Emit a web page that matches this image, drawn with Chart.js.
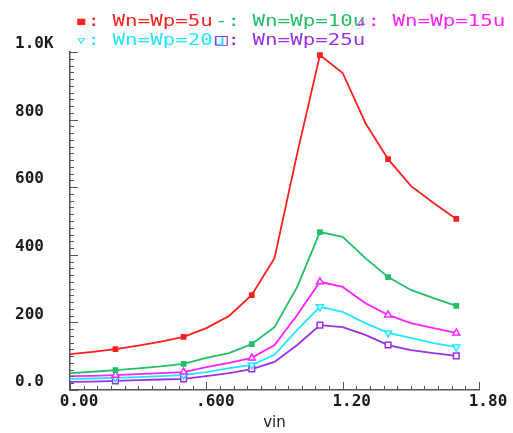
<!DOCTYPE html>
<html>
<head>
<meta charset="utf-8">
<script src="https://cdn.jsdelivr.net/npm/chart.js@4/dist/chart.umd.min.js"></script>
<style>
    html, body { margin: 0; padding: 0; background: #fff; }
    #wrap { position: relative; width: 513px; height: 433px; }
    #legend { position: absolute; left: 75px; top: 11px; width: 440px; }
    .row { position: relative; height: 19px; }
    .item {
        position: absolute; top: 0; white-space: pre;
        font: 16px 'DejaVu Sans Mono', monospace; line-height: 19px;
        transform: scaleX(1.3); transform-origin: left center;
    }
</style>
</head>
<body>
<div id="wrap">
    <canvas id="c" width="513" height="433"></canvas>
    <div id="legend"></div>
</div>
<script>
const vin = [0, 0.1, 0.2, 0.3, 0.4, 0.5, 0.6, 0.7, 0.8, 0.9, 1.0, 1.1, 1.2, 1.3, 1.4, 1.5, 1.6, 1.7];
const wp5 = [106, 113, 121, 131, 143, 157, 183, 219, 281, 390, 700, 991, 938, 790, 683, 604, 553, 506];
const wp10 = [50, 54, 59, 64, 70, 77, 95, 109, 136, 186, 305, 467, 453, 390, 334, 296, 272, 249];
const wp15 = [41, 42, 44, 47, 50, 53, 68, 80, 95, 133, 222, 320, 305, 257, 222, 198, 183, 169];
const wp20 = [33, 34, 36, 38, 41, 44, 53, 65, 74, 104, 178, 246, 231, 198, 169, 154, 139, 127];
const wp25 = [24, 25, 27, 29, 31, 33, 41, 50, 62, 83, 133, 192, 186, 163, 133, 118, 109, 101];
const markerAt = [0.2, 0.5, 0.8, 1.1, 1.4, 1.7];

const seriesNames = ['Wn=Wp=5u', 'Wn=Wp=10u', 'Wn=Wp=15u', 'Wn=Wp=20u', 'Wn=Wp=25u'];
const legendGlyphs = ['\u25aa', '-', '\u25b5', '\u25bf', '\u25a1'];

const xTicks = [0, 0.6, 1.2, 1.8];
const xTickLabels = ['0.00', '.600', '1.20', '1.80'];
const yTicks = [0, 200, 400, 600, 800, 1000];
const yTickLabels = ['0.0', '200', '400', '600', '800', '1.0K'];

const COLORS = ['#ff1f1f', '#22bf66', '#ff22ff', '#22e6ff', '#9b30e8'];
const AXIS = '#555';
const TEXT = '#1a1a1a';

const allSeries = [wp5, wp10, wp15, wp20, wp25];
const styles = [
    { shape: 'rect', r: 3, filled: true },
    { shape: 'rect', r: 3, filled: true },
    { shape: 'triangle', r: 4, filled: false },
    { shape: 'triangle', r: 4, filled: false, rot: 180 },
    { shape: 'rect', r: 4, filled: false },
];

function isMarker(x) {
    return markerAt.some((m) => Math.abs(m - x) < 1e-6);
}

const datasets = allSeries.map((vals, i) => ({
    label: seriesNames[i],
    data: vals.map((v, k) => ({ x: vin[k], y: v })),
    borderColor: COLORS[i],
    backgroundColor: styles[i].filled ? COLORS[i] : '#fff',
    borderWidth: 1.8,
    pointStyle: styles[i].shape,
    pointRotation: styles[i].rot || 0,
    pointBorderWidth: 1.5,
    pointRadius: (ctx) => (ctx.raw && isMarker(ctx.raw.x) ? styles[i].r : 0),
    pointHoverRadius: 0,
    tension: 0,
    fill: false,
}));

// ticks drawn inside the plot, like the original simulator plot
const innerTicks = {
    id: 'innerTicks',
    afterDraw(chart) {
        const ctx = chart.ctx;
        const xs = chart.scales.x;
        const ys = chart.scales.y;
        ctx.save();
        ctx.strokeStyle = AXIS;
        ctx.lineWidth = 1;
        ctx.beginPath();
        for (let i = 0; i <= 50; i++) {
            const v = i * 20;
            const py = Math.round(ys.getPixelForValue(v)) + 0.5;
            const len = v % 200 === 0 ? 8 : 4;
            ctx.moveTo(xs.left, py);
            ctx.lineTo(xs.left + len, py);
        }
        for (let i = 0; i <= 30; i++) {
            const px = Math.round(xs.getPixelForValue(i * 0.06)) + 0.5;
            const len = i % 10 === 0 ? 8 : 4;
            ctx.moveTo(px, ys.bottom);
            ctx.lineTo(px, ys.bottom - len);
        }
        ctx.stroke();
        ctx.restore();
    },
};

new Chart(document.getElementById('c'), {
    type: 'line',
    data: { datasets },
    options: {
        responsive: false,
        animation: false,
        layout: { padding: { left: 15, top: 52, right: 34, bottom: 0 } },
        plugins: { legend: { display: false }, tooltip: { enabled: false } },
        scales: {
            x: {
                type: 'linear',
                min: 0,
                max: 1.8,
                afterBuildTicks: (s) => { s.ticks = xTicks.map((v) => ({ value: v })); },
                afterFit: (s) => { s.height = 43; },
                grid: { drawOnChartArea: false, drawTicks: false },
                border: { color: AXIS, width: 1.5 },
                ticks: {
                    padding: 2,
                    labelOffset: 9,
                    maxRotation: 0,
                    color: TEXT,
                    font: { family: 'DejaVu Sans Mono', size: 16, weight: 'bold' },
                    callback: (v) => xTickLabels[xTicks.indexOf(v)],
                },
                title: {
                    display: true,
                    text: 'vin',
                    color: TEXT,
                    padding: { top: 0, bottom: 1 },
                    font: { family: 'DejaVu Sans', size: 15 },
                },
            },
            y: {
                type: 'linear',
                min: 0,
                max: 1000,
                afterBuildTicks: (s) => { s.ticks = yTicks.map((v) => ({ value: v })); },
                afterFit: (s) => { s.width = 55; },
                grid: { drawOnChartArea: false, drawTicks: false },
                border: { color: AXIS, width: 1.5 },
                ticks: {
                    crossAlign: 'far',
                    labelOffset: -8,
                    color: TEXT,
                    font: { family: 'DejaVu Sans Mono', size: 16, weight: 'bold' },
                    callback: (v) => yTickLabels[yTicks.indexOf(v)],
                },
            },
        },
    },
    plugins: [innerTicks],
});

// two-row legend, three entries per row
const legend = document.getElementById('legend');
let row = null;
seriesNames.forEach((name, i) => {
    if (i % 3 === 0) {
        row = document.createElement('div');
        row.className = 'row';
        legend.appendChild(row);
    }
    const item = document.createElement('span');
    item.className = 'item';
    item.style.left = (i % 3) * 140 + 'px';
    item.style.color = COLORS[i];
    item.textContent = legendGlyphs[i] + ': ' + name;
    row.appendChild(item);
});
</script>
</body>
</html>
